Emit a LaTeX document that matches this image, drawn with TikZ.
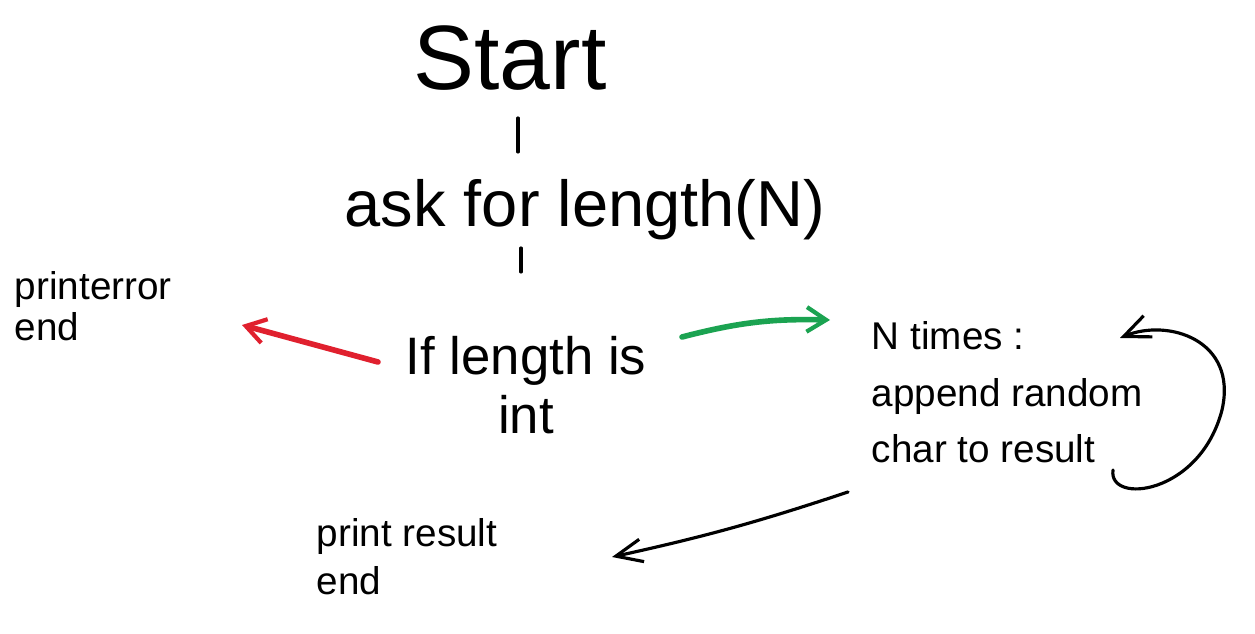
\documentclass[tikz,border=0pt]{standalone}
\usepackage{fontspec}
\setmainfont{Liberation Sans}
\usetikzlibrary{arrows.meta}
\definecolor{errred}{HTML}{E0202E}
\definecolor{okgreen}{HTML}{1BA351}
\begin{document}
\begin{tikzpicture}[x=0.02cm,y=-0.02cm]

\tikzset{mytext/.style={text=black, inner sep=2pt}}
\tikzset{myline/.style={draw=black, line width=1.8pt, line cap=round}}
\tikzset{myarrow/.style={myline, -{Straight Barb[length=15pt,width=13pt]}}}
\tikzset{fatarrow/.style={line width=3.2pt, line cap=round, -{Straight Barb[length=11pt,width=14pt,line width=2.4pt]}}}

\useasboundingbox (0,0) rectangle (1255,634);

\node[mytext, font=\fontsize{52}{56}\selectfont] (start) at (510,58) {Start};
\node[mytext, font=\fontsize{37}{42}\selectfont] (ask) at (585,210) {ask for length(N)};
\node[mytext, font=\fontsize{30}{34}\selectfont, align=center] (check) at (526,385) {If length is\\int};
\node[mytext, font=\fontsize{22}{23}\selectfont, align=left, anchor=north west] (err) at (11,268) {printerror\\end};
\node[mytext, font=\fontsize{22}{32}\selectfont, align=left, anchor=north west] (loop) at (868,318) {N times :\\append random\\char to result};
\node[mytext, font=\fontsize{22}{27}\selectfont, align=left, anchor=north west] (result) at (313,515) {print result\\end};

\draw[myline] ([shift={(8,60)}]start.center) -- ([shift={(-67,-58)}]ask.center);
\draw[myline] ([shift={(-64,38)}]ask.center) -- ([shift={(-5,-113)}]check.center);

\draw[fatarrow, errred] ([shift={(-148,-23)}]check.center) -- ([shift={(231,57)}]err.north west);
\draw[fatarrow, okgreen] ([shift={(156,-48)}]check.center) to[bend left=8] ([shift={(-38,2)}]loop.north west);
\draw[myarrow] ([shift={(-20,174)}]loop.north west) to[bend left=3] ([shift={(299,42)}]result.north west);

\begin{scope}[shift={(loop.north west)}]
\draw[myarrow] (245,152) .. controls (240,187) and (332,177) .. (354,92)
  .. controls (370,22) and (300,0) .. (252,20);
\end{scope}

\end{tikzpicture}
\end{document}
